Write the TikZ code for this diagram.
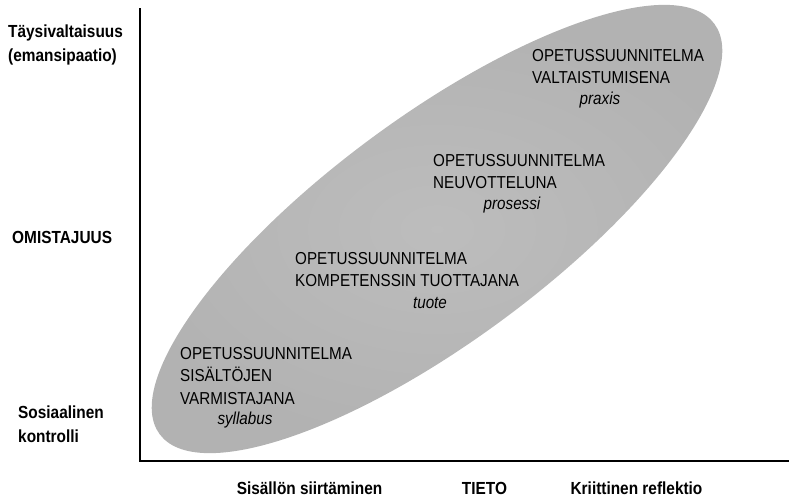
\documentclass[tikz,border=0pt]{standalone}
\usepackage{fontspec}
\setmainfont[FakeStretch=0.88]{Liberation Sans}
\usetikzlibrary{positioning}

\tikzset{
  axis/.style={line width=2.6pt},
  cloud/.style={inner color=black!26, outer color=black!30},
  lvl/.style={anchor=west, align=left, inner sep=0pt, font=\fontsize{17.3}{22.8}\selectfont},
  mode/.style={inner sep=0pt, font=\fontsize{17.3}{18}\selectfont\itshape},
  ylab/.style={anchor=west, align=left, inner sep=0pt, font=\fontsize{17.5}{23.5}\selectfont\bfseries},
  xlab/.style={inner sep=0pt, font=\fontsize{17.5}{18}\selectfont\bfseries}
}

\begin{document}
\begin{tikzpicture}[x=1pt, y=-1pt]  % pixel-like units, y pointing down
    \useasboundingbox (0,0) rectangle (789,499);  % fixes the page size

    % grey ellipse behind the four curriculum levels
    \shade[cloud, rotate around={36.5:(437,229)}] (437,229) ellipse [x radius=345pt, y radius=112pt];

    % axes
    \coordinate (ytop) at (140,8);
    \coordinate (origin) at (140,461);
    \coordinate (xend) at (789,461);
    \draw[axis] (ytop) -- (origin) -- (xend);  % vertical and horizontal axis

    % y-axis labels
    \node[ylab] (emans) at (8,45) {Täysivaltaisuus\\(emansipaatio)};
    \node[ylab] (omist) at (12,237) {OMISTAJUUS};
    \node[ylab] (sosiaal) at (18,424) {Sosiaalinen\\kontrolli};

    % x-axis labels
    \node[xlab] (siirto) at (309.5,488) {Sisällön siirtäminen};
    \node[xlab] (tieto) at (484.5,488) {TIETO};
    \node[xlab] (reflek) at (636.5,488) {Kriittinen reflektio};

    % curriculum levels
    \node[lvl] (valta) at (532,66.5) {OPETUSSUUNNITELMA\\VALTAISTUMISENA};
    \node[mode] (praxis) at (600,100) {praxis};
    \node[lvl] (neuvo) at (433,171.5) {OPETUSSUUNNITELMA\\NEUVOTTELUNA};
    \node[mode] (prosessi) at (512,205) {prosessi};
    \node[lvl] (kompet) at (295,269.5) {OPETUSSUUNNITELMA\\KOMPETENSSIN TUOTTAJANA};
    \node[mode] (tuote) at (430,303) {tuote};
    \node[lvl] (sisalto) at (180,376) {OPETUSSUUNNITELMA\\SISÄLTÖJEN\\VARMISTAJANA};
    \node[mode] (syllabus) at (245,420) {syllabus};
\end{tikzpicture}
\end{document}
